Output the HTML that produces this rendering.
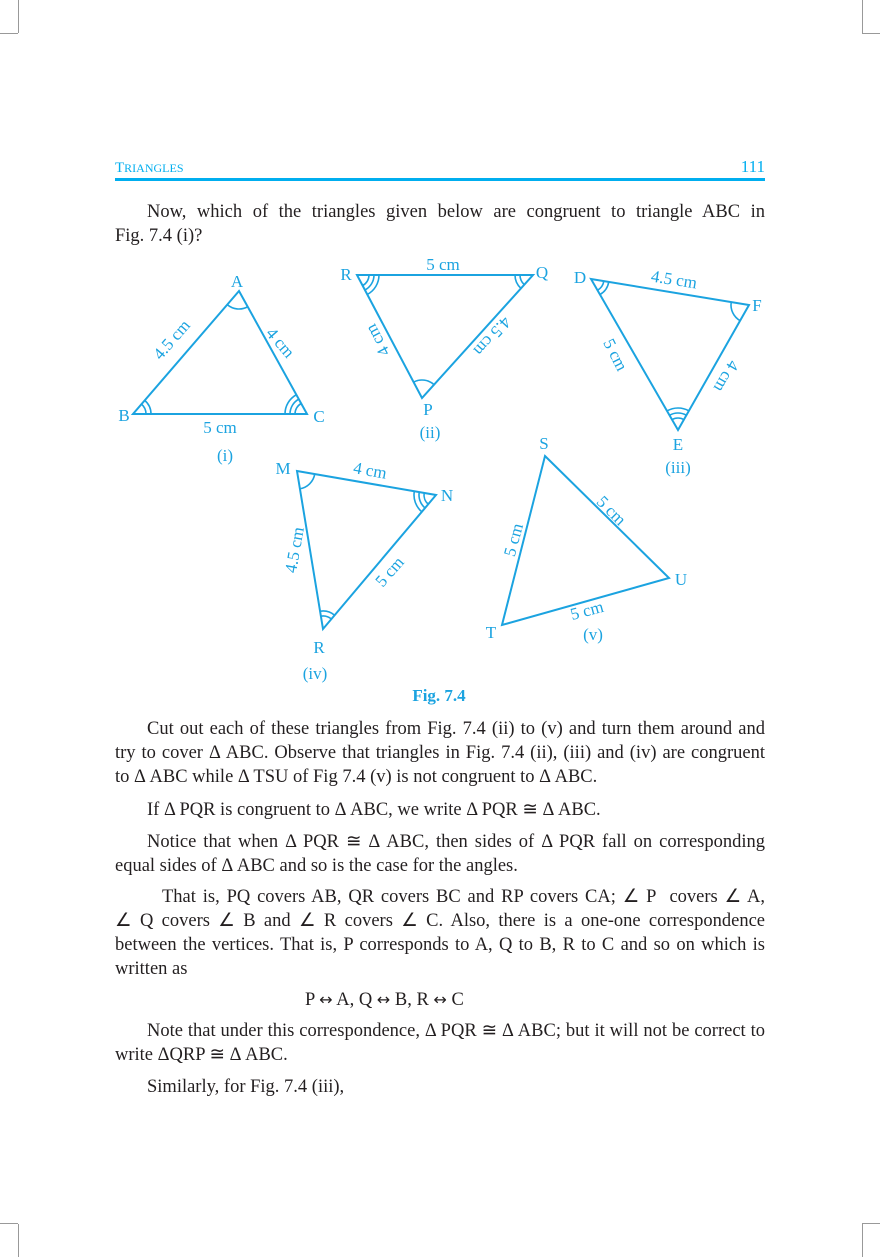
<!DOCTYPE html>
<html><head><meta charset="utf-8"><style>
body{margin:0;background:#fff;}
#p{position:relative;width:880px;height:1257px;overflow:hidden;font-family:"Liberation Serif",serif;color:#231f20;}
.l{position:absolute;left:115px;width:650px;font-size:18.5px;line-height:22px;white-space:nowrap;}
.j{text-align:justify;text-align-last:justify;white-space:normal;}
.ar{font-family:"DejaVu Sans",sans-serif;font-size:16px;}
svg{position:absolute;left:0;top:0;}
</style></head><body><div id="p">
<svg width="880" height="1257" font-family="Liberation Serif, serif">
<g stroke="#999" stroke-width="1">
<line x1="18.5" y1="0" x2="18.5" y2="33"/><line x1="0" y1="33.5" x2="18" y2="33.5"/>
<line x1="862.5" y1="0" x2="862.5" y2="33"/><line x1="862" y1="33.5" x2="880" y2="33.5"/>
<line x1="18.5" y1="1224" x2="18.5" y2="1257"/><line x1="0" y1="1223.5" x2="18" y2="1223.5"/>
<line x1="862.5" y1="1224" x2="862.5" y2="1257"/><line x1="862" y1="1223.5" x2="880" y2="1223.5"/>
</g>
<rect x="115" y="178" width="650" height="3" fill="#00aeef"/>
<text x="115" y="172" fill="#00aeef" font-size="15">T<tspan font-size="12">RIANGLES</tspan></text>
<text x="765" y="172" fill="#00aeef" font-size="17" text-anchor="end">111</text>
<g id="fig" fill="none" stroke="#1ba3e0" stroke-width="2" stroke-linejoin="miter">
<polygon points="239,291 133,414 307,414"/>
<polygon points="357,275 533,275 422,398"/>
<polygon points="591,279 749,305 678,430"/>
<polygon points="297,471 436,495 323,629"/>
<polygon points="545,456 669,578 502,625"/>
</g>
<g id="arcs" fill="none" stroke="#1ba3e0" stroke-width="1.6"></g>
<g fill="#1ba3e0" font-size="17">
<text x="237" y="287" text-anchor="middle">A</text>
<text x="124" y="421" text-anchor="middle">B</text>
<text x="319" y="422" text-anchor="middle">C</text>
<text x="220" y="433" text-anchor="middle">5 cm</text>
<text x="225" y="461" text-anchor="middle">(i)</text>
<text transform="translate(172,340) rotate(-49)" text-anchor="middle" dy="5">4.5 cm</text>
<text transform="translate(280,343) rotate(49)" text-anchor="middle" dy="5">4 cm</text>
<text x="346" y="280" text-anchor="middle">R</text>
<text x="542" y="278" text-anchor="middle">Q</text>
<text x="428" y="415" text-anchor="middle">P</text>
<text x="430" y="438" text-anchor="middle">(ii)</text>
<text x="443" y="270" text-anchor="middle">5 cm</text>
<text transform="translate(378,340) rotate(242)" text-anchor="middle" dy="5">4 cm</text>
<text transform="translate(492,336) rotate(132)" text-anchor="middle" dy="5">4.5 cm</text>
<text x="580" y="283" text-anchor="middle">D</text>
<text x="757" y="311" text-anchor="middle">F</text>
<text x="678" y="450" text-anchor="middle">E</text>
<text x="678" y="473" text-anchor="middle">(iii)</text>
<text transform="translate(674,280) rotate(9)" text-anchor="middle" dy="5">4.5 cm</text>
<text transform="translate(615,355) rotate(63)" text-anchor="middle" dy="5">5 cm</text>
<text transform="translate(726,376) rotate(120)" text-anchor="middle" dy="5">4 cm</text>
<text x="283" y="474" text-anchor="middle">M</text>
<text x="447" y="501" text-anchor="middle">N</text>
<text x="319" y="653" text-anchor="middle">R</text>
<text x="315" y="679" text-anchor="middle">(iv)</text>
<text transform="translate(370,471) rotate(10)" text-anchor="middle" dy="5">4 cm</text>
<text transform="translate(295,550) rotate(-80)" text-anchor="middle" dy="5">4.5 cm</text>
<text transform="translate(390,572) rotate(-49)" text-anchor="middle" dy="5">5 cm</text>
<text x="544" y="449" text-anchor="middle">S</text>
<text x="681" y="585" text-anchor="middle">U</text>
<text x="491" y="638" text-anchor="middle">T</text>
<text x="593" y="640" text-anchor="middle">(v)</text>
<text transform="translate(514,540) rotate(-75)" text-anchor="middle" dy="5">5 cm</text>
<text transform="translate(611,511) rotate(45)" text-anchor="middle" dy="5">5 cm</text>
<text transform="translate(587,611) rotate(-15)" text-anchor="middle" dy="5">5 cm</text>
<text x="439" y="701" text-anchor="middle" font-weight="bold">Fig. 7.4</text>
</g>
</svg>
<div class="l j" style="top:201px;text-indent:32px">Now, which of the triangles given below are congruent to triangle ABC in</div>
<div class="l" style="top:225px">Fig. 7.4 (i)?</div>
<div class="l j" style="top:718px;text-indent:32px">Cut out each of these triangles from Fig. 7.4 (ii) to (v) and turn them around and</div>
<div class="l j" style="top:742px">try to cover Δ ABC. Observe that triangles in Fig. 7.4 (ii), (iii) and (iv) are congruent</div>
<div class="l" style="top:766px">to Δ ABC while Δ TSU of Fig 7.4 (v) is not congruent to Δ ABC.</div>
<div class="l" style="top:799px;left:147px">If Δ PQR is congruent to Δ ABC, we write Δ PQR ≅ Δ ABC.</div>
<div class="l j" style="top:831px;text-indent:32px">Notice that when Δ PQR ≅ Δ ABC, then sides of Δ PQR fall on corresponding</div>
<div class="l" style="top:855px">equal sides of Δ ABC and so is the case for the angles.</div>
<div class="l j" style="top:886px;text-indent:47px">That is, PQ covers AB, QR covers BC and RP covers CA; ∠ P &nbsp;covers ∠ A,</div>
<div class="l j" style="top:910px">∠ Q covers ∠ B and ∠ R covers ∠ C. Also, there is a one-one correspondence</div>
<div class="l j" style="top:934px">between the vertices. That is, P corresponds to A, Q to B, R to C and so on which is</div>
<div class="l" style="top:958px">written as</div>
<div class="l" style="top:989px;left:305px">P <span class="ar">↔</span> A, Q <span class="ar">↔</span> B, R <span class="ar">↔</span> C</div>
<div class="l j" style="top:1020px;text-indent:32px">Note that under this correspondence, Δ PQR ≅ Δ ABC; but it will not be correct to</div>
<div class="l" style="top:1044px">write ΔQRP ≅ Δ ABC.</div>
<div class="l" style="top:1076px;left:147px">Similarly, for Fig. 7.4 (iii),</div>
</div>
<script>
var g=document.getElementById('arcs'),s='';
function arc(V,A,B,n){var rs=[[18],[13,18],[12,17,22]][n-1];
rs.forEach(function(r){
var a=Math.atan2(A[1]-V[1],A[0]-V[0]),b=Math.atan2(B[1]-V[1],B[0]-V[0]);
var p1=[V[0]+r*Math.cos(a),V[1]+r*Math.sin(a)],p2=[V[0]+r*Math.cos(b),V[1]+r*Math.sin(b)];
var d=b-a;while(d>Math.PI)d-=2*Math.PI;while(d<-Math.PI)d+=2*Math.PI;
s+='<path d="M'+p1[0]+' '+p1[1]+' A'+r+' '+r+' 0 0 '+(d>0?1:0)+' '+p2[0]+' '+p2[1]+'"/>';});}
var A=[239,291],B=[133,414],C=[307,414];arc(A,B,C,1);arc(B,A,C,2);arc(C,A,B,3);
var R=[357,275],Q=[533,275],P=[422,398];arc(R,Q,P,3);arc(Q,R,P,2);arc(P,R,Q,1);
var D=[591,279],F=[749,305],E=[678,430];arc(D,F,E,2);arc(F,D,E,1);arc(E,D,F,3);
var M=[297,471],N=[436,495],R2=[323,629];arc(M,N,R2,1);arc(N,M,R2,3);arc(R2,M,N,2);
g.innerHTML=s;
</script>
</body></html>
